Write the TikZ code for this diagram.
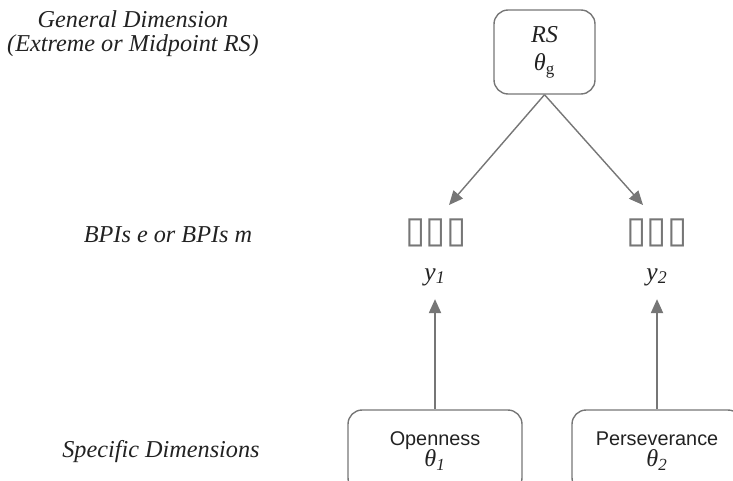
\documentclass[tikz,border=0pt]{standalone}
\usepackage{fontspec}
\setmainfont{Liberation Serif}
\setsansfont{Liberation Sans}
\newfontfamily\boxfont{DejaVu Sans}
\usetikzlibrary{arrows.meta}
\definecolor{linegray}{RGB}{118,118,118}
\definecolor{textdark}{RGB}{34,34,34}

\begin{document}
\begin{tikzpicture}[x=0.02cm, y=-0.02cm, line width=0.8pt]
  % Define styles
  \tikzstyle{label} = [text=textdark, font=\fontsize{13.8}{13.6}\selectfont\itshape, align=center]
  \tikzstyle{factor} = [rectangle, draw=linegray, rounded corners=8pt, text=textdark, align=center, inner sep=0pt]
  \tikzstyle{items} = [text=linegray, font=\boxfont\fontsize{21}{21}\selectfont]
  \tikzstyle{obs} = [text=textdark, font=\fontsize{14.5}{14}\selectfont\itshape]
  \tikzstyle{arrow} = [draw=linegray, -{Triangle[length=8pt, width=7pt]}]
  \useasboundingbox (0,0) rectangle (733,480);

  % Left column labels
  \node[label] (gen) at (133,33.5) {General Dimension\\(Extreme or Midpoint RS)};
  \node[label] (bpi) at (168,235) {BPIs e or BPIs m};
  \node[label] (spec) at (161,452) {Specific Dimensions};

  % General factor
  \node[factor, minimum width=2.02cm, minimum height=1.68cm, font=\fontsize{13.8}{16}\selectfont\itshape] (rs) at (544.5,52)
    {RS\\θ\textsubscript{\upshape g}};

  % Items and observed scores
  \node[items] (items1) at (436,233) {▯▯▯};
  \node[items] (items2) at (657,233) {▯▯▯};
  \node[obs] (y1) at (435,277) {y\textsubscript{1}};
  \node[obs] (y2) at (657,277) {y\textsubscript{2}};

  % Specific factors
  \node[factor, minimum width=3.48cm, minimum height=1.64cm] (open) at (435,451)
    {{\sffamily\fontsize{11.3}{14}\selectfont Openness}\\{\fontsize{13.8}{14}\selectfont\itshape θ\textsubscript{1}}};
  \node[factor, minimum width=3.4cm, minimum height=1.64cm] (pers) at (657,451)
    {{\sffamily\fontsize{11.3}{14}\selectfont Perseverance}\\{\fontsize{13.8}{14}\selectfont\itshape θ\textsubscript{2}}};

  % Loadings
  \coordinate (tip1) at (449,205);
  \coordinate (tip2) at (643,205);
  \draw[arrow] (rs.south) -- (tip1);
  \draw[arrow] (rs.south) -- (tip2);
  \draw[arrow, shorten >=4pt] (open) -- (y1);
  \draw[arrow, shorten >=4pt] (pers) -- (y2);
\end{tikzpicture}
\end{document}
